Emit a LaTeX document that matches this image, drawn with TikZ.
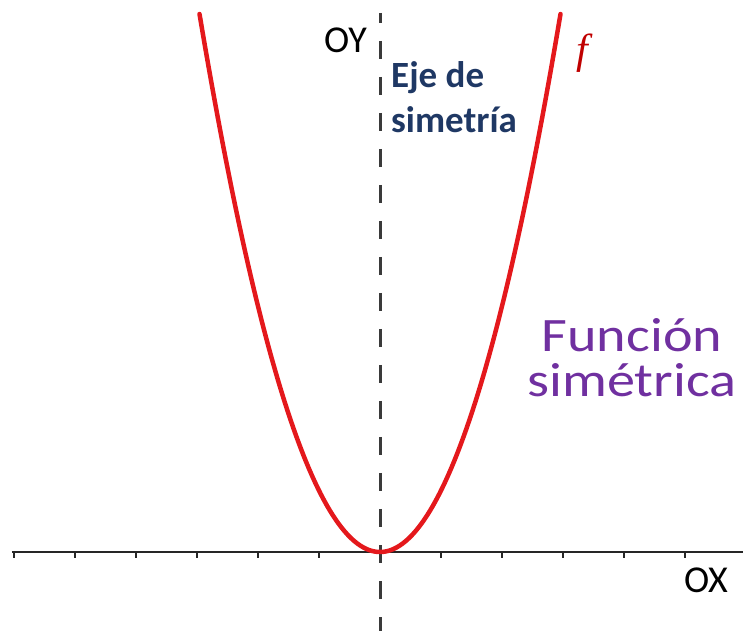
\documentclass[tikz,border=0pt]{standalone}
\usepackage{fontspec}
\setmainfont{Carlito}
\newfontfamily\widefont[FakeStretch=1.17]{Carlito}
\newfontfamily\ffont{Liberation Serif}
\usepackage{tikz}
\usetikzlibrary{positioning}
\definecolor{curvered}{RGB}{228,24,28}
\definecolor{fdarkred}{RGB}{192,0,0}
\definecolor{ejenavy}{RGB}{31,56,100}
\definecolor{titlepurple}{RGB}{112,48,160}
\definecolor{axisgray}{RGB}{58,58,58}

\begin{document}
\begin{tikzpicture}[x=1pt,y=1pt,
    every node/.style={inner sep=0pt},
    axlabel/.style={anchor=base west,font=\fontsize{38}{38}\selectfont},
    axtick/.style={line width=1.6pt,black!85},
    symaxis/.style={axisgray,line width=3pt,dash pattern=on 18pt off 18pt,dash phase=8pt},
    titletext/.style={anchor=base,text=titlepurple,font=\fontsize{48}{48}\selectfont\widefont},
    curve/.style={curvered,line width=4.5pt,line cap=round}]
  \useasboundingbox (-380,-79) rectangle (363,552);
  % ejes
  \coordinate (xl) at (-368,0);
  \coordinate (xr) at (363,0);
  \coordinate (yt) at (0,539);
  \coordinate (yb) at (0,-79);
  \draw[line width=1.6pt,black!85] (xl) -- (xr);
  \foreach \i in {-6,...,5}
    \draw[axtick] (\i*61,0) -- ++(0,-6);
  \draw[symaxis] (yt) -- (yb);
  % parabola
  \draw[curve] plot[domain=-180.5:180.5,samples=120] (\x,{538*(\x/180.5)^2});
  % textos
  \node[axlabel] (oy) at (-56,499) {OY};
  \node[axlabel] (ox) at (304,-40) {OX};
  \node[anchor=base west,align=left,text=ejenavy,
        font=\fontsize{37}{45}\selectfont\bfseries] (eje) at (11,419) {Eje de\\simetría};
  \node[text=fdarkred,font=\fontsize{42}{42}\selectfont\ffont\itshape] (f) at (202,499) {f};
  \node[titletext] (funcion) at (252,200) {Función};
  \node[titletext] (simetrica) at (252,155) {simétrica};
\end{tikzpicture}
\end{document}
